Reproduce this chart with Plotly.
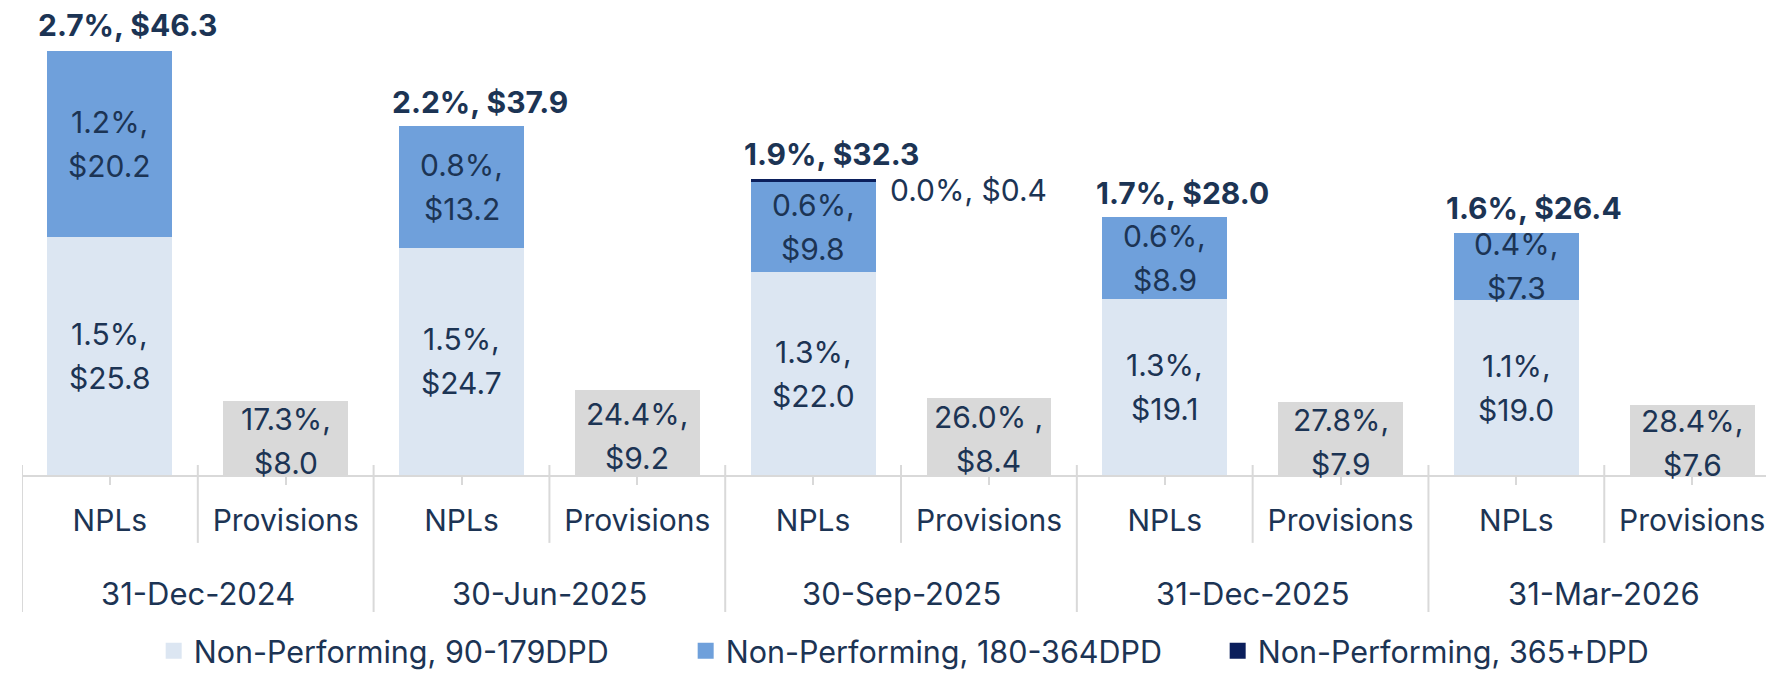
import plotly.graph_objects as go

# ---------------- data ----------------
dates = ["31-Dec-2024", "30-Jun-2025", "30-Sep-2025", "31-Dec-2025", "31-Mar-2026"]
sub_labels = ["NPLs", "Provisions"]

npl_90_179 = [25.8, 24.7, 22.0, 19.1, 19.0]
npl_90_179_pct = ["1.5%", "1.5%", "1.3%", "1.3%", "1.1%"]

npl_180_364 = [20.2, 13.2, 9.8, 8.9, 7.3]
npl_180_364_pct = ["1.2%", "0.8%", "0.6%", "0.6%", "0.4%"]

npl_365 = [0.0, 0.0, 0.4, 0.0, 0.0]
npl_365_pct = [None, None, "0.0%", None, None]

npl_total = [46.3, 37.9, 32.3, 28.0, 26.4]
npl_total_pct = ["2.7%", "2.2%", "1.9%", "1.7%", "1.6%"]

provisions = [8.0, 9.2, 8.4, 7.9, 7.6]
provisions_pct = ["17.3%", "24.4%", "26.0% ", "27.8%", "28.4%"]

series_names = ["Non-Performing, 90-179DPD", "Non-Performing, 180-364DPD", "Non-Performing, 365+DPD"]

# ---------------- style ----------------
C_LIGHT = "#DCE6F2"
C_MID = "#6FA0DB"
C_DARK = "#0B1F5C"
C_GREY = "#D9D9D9"
C_TEXT = "#1C3454"
C_AXIS = "#D9D9D9"
FONT = "Inter"
FS = 30
BAR_W = 0.71
LINE_GAP = 22

n = len(dates)
npl_x = [2 * i for i in range(n)]
prov_x = [2 * i + 1 for i in range(n)]

fig = go.Figure()

fig.add_trace(go.Bar(x=npl_x, y=npl_90_179, width=BAR_W, marker=dict(color=C_LIGHT, line=dict(width=0)),
                     name=series_names[0], showlegend=False, hoverinfo="skip"))
fig.add_trace(go.Bar(x=npl_x, y=npl_180_364, width=BAR_W, marker=dict(color=C_MID, line=dict(width=0)),
                     name=series_names[1], showlegend=False, hoverinfo="skip"))
fig.add_trace(go.Bar(x=npl_x, y=npl_365, width=BAR_W, marker=dict(color=C_DARK, line=dict(width=0)),
                     name=series_names[2], showlegend=False, hoverinfo="skip"))
fig.add_trace(go.Bar(x=prov_x, y=provisions, width=BAR_W, marker=dict(color=C_GREY, line=dict(width=0)),
                     name="Provisions", showlegend=False, hoverinfo="skip"))

# legend proxies (larger square swatches)
for nm, col in zip(series_names, [C_LIGHT, C_MID, C_DARK]):
    fig.add_trace(go.Scatter(x=[None], y=[None], mode="markers", name=nm,
                             marker=dict(symbol="square", size=16, color=col, line=dict(width=0))))

annotations = []


def two_line(x, y, l1, l2, shift=0):
    annotations.append(dict(x=x, y=y, xref="x", yref="y", text=l1, showarrow=False,
                            font=dict(family=FONT, size=FS, color=C_TEXT), yshift=LINE_GAP + shift,
                            xanchor="center", yanchor="middle"))
    annotations.append(dict(x=x, y=y, xref="x", yref="y", text=l2, showarrow=False,
                            font=dict(family=FONT, size=FS, color=C_TEXT), yshift=-LINE_GAP + shift,
                            xanchor="center", yanchor="middle"))


for i in range(n):
    two_line(npl_x[i], npl_90_179[i] / 2, npl_90_179_pct[i] + ",", "$%.1f" % npl_90_179[i])
    two_line(npl_x[i], npl_90_179[i] + npl_180_364[i] / 2, npl_180_364_pct[i] + ",", "$%.1f" % npl_180_364[i])
    two_line(prov_x[i], provisions[i] / 2, provisions_pct[i] + ",", "$%.1f" % provisions[i], shift=-3)
    annotations.append(dict(x=npl_x[i], y=npl_total[i], xref="x", yref="y",
                            text="<b>%s, $%.1f</b>" % (npl_total_pct[i], npl_total[i]), showarrow=False,
                            font=dict(family=FONT, size=FS, color=C_TEXT), xanchor="center",
                            yanchor="bottom", xshift=18, yshift=4))
    if npl_365_pct[i] is not None:
        annotations.append(dict(x=npl_x[i] + BAR_W / 2, y=npl_90_179[i] + npl_180_364[i] + npl_365[i] / 2,
                                xref="x", yref="y", text="%s, $%.1f" % (npl_365_pct[i], npl_365[i]),
                                showarrow=False, font=dict(family=FONT, size=FS, color=C_TEXT),
                                xanchor="left", yanchor="middle", xshift=12, yshift=-10))
    annotations.append(dict(x=2 * i + 0.5, y=-0.2543, xref="x", yref="paper", text=dates[i],
                            showarrow=False, font=dict(family=FONT, size=31, color=C_TEXT),
                            xanchor="center", yanchor="middle"))

shapes = []
for i in range(n):
    gx = 2 * i - 0.5
    shapes.append(dict(type="line", xref="x", yref="paper", x0=gx, x1=gx, y0=0.0215, y1=-0.2946,
                       line=dict(color=C_AXIS, width=2)))
    ix = 2 * i + 0.5
    shapes.append(dict(type="line", xref="x", yref="paper", x0=ix, x1=ix, y0=0.0215, y1=-0.146,
                       line=dict(color=C_AXIS, width=2)))

fig.update_layout(
    width=1766, height=673,
    margin=dict(l=22, r=0, t=10, b=198, autoexpand=False),
    paper_bgcolor="white", plot_bgcolor="white",
    barmode="stack",
    font=dict(family=FONT, size=FS, color=C_TEXT),
    annotations=annotations,
    shapes=shapes,
    showlegend=True,
    legend=dict(orientation="h", x=0.0755, xanchor="left", y=-0.3785, yanchor="middle",
                font=dict(family=FONT, size=30.5, color=C_TEXT), bgcolor="rgba(0,0,0,0)",
                entrywidth=487, entrywidthmode="pixels", traceorder="normal"),
    xaxis=dict(range=[-0.5, 9.42], tickmode="array", tickvals=npl_x + prov_x,
               ticktext=[sub_labels[0]] * n + [sub_labels[1]] * n,
               showline=True, linecolor=C_AXIS, linewidth=2, ticks="outside", ticklen=8,
               tickcolor=C_AXIS, tickwidth=2, showgrid=False, zeroline=False,
               ticklabelstandoff=10, automargin=False, ticklabeloverflow="allow",
               tickfont=dict(family=FONT, size=30, color=C_TEXT), fixedrange=True),
    yaxis=dict(range=[0, 50.5], visible=False, fixedrange=True),
)

fig.write_html("out.html")
